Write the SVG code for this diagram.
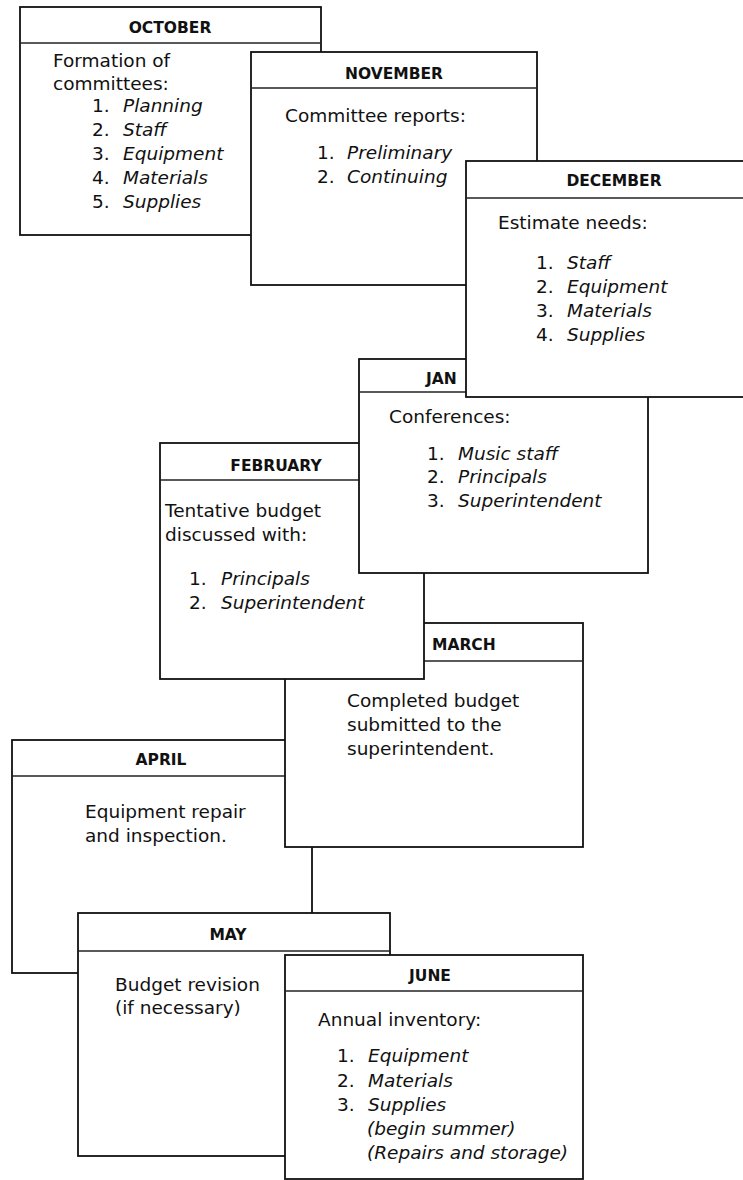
<svg xmlns="http://www.w3.org/2000/svg" width="743" height="1180" viewBox="0 0 743 1180">
<style>
.box{fill:#fff;stroke:#111;stroke-width:1.8}
.hl{stroke:#222;stroke-width:1.3}
.h{font-family:"DejaVu Sans","Liberation Sans",sans-serif;font-weight:bold;font-size:15.5px;fill:#111}
.t{font-family:"DejaVu Sans","Liberation Sans",sans-serif;font-size:18.5px;fill:#111}
.i{font-style:italic}
</style>
<rect width="743" height="1180" fill="#fff"/>
<g id="connectors"/>
<g id="october">
<rect class="box" x="20" y="7" width="301" height="228"/>
<line class="hl" x1="20" y1="43" x2="321" y2="43"/>
<text class="h" x="170" y="33" text-anchor="middle">OCTOBER</text>
<text class="t" x="53" y="67">Formation of</text>
<text class="t" x="53" y="90">committees:</text>
<text class="t" x="92" y="112">1.</text><text class="t i" x="123" y="112">Planning</text>
<text class="t" x="92" y="136">2.</text><text class="t i" x="123" y="136">Staff</text>
<text class="t" x="92" y="160">3.</text><text class="t i" x="123" y="160">Equipment</text>
<text class="t" x="92" y="184">4.</text><text class="t i" x="123" y="184">Materials</text>
<text class="t" x="92" y="208">5.</text><text class="t i" x="123" y="208">Supplies</text>
</g>
<g id="november">
<rect class="box" x="251" y="52" width="286" height="233"/>
<line class="hl" x1="251" y1="88" x2="537" y2="88"/>
<text class="h" x="394" y="79" text-anchor="middle">NOVEMBER</text>
<text class="t" x="285" y="122">Committee reports:</text>
<text class="t" x="317" y="159">1.</text><text class="t i" x="347" y="159">Preliminary</text>
<text class="t" x="317" y="183">2.</text><text class="t i" x="347" y="183">Continuing</text>
</g>
<g id="april">
<rect class="box" x="12" y="740" width="300" height="233"/>
<line class="hl" x1="12" y1="776" x2="312" y2="776"/>
<text class="h" x="161" y="765" text-anchor="middle">APRIL</text>
<text class="t" x="85" y="818">Equipment repair</text>
<text class="t" x="85" y="842">and inspection.</text>
</g>
<g id="march">
<rect class="box" x="285" y="623" width="298" height="224"/>
<line class="hl" x1="285" y1="661" x2="583" y2="661"/>
<text class="h" x="432" y="650">MARCH</text>
<text class="t" x="347" y="707">Completed budget</text>
<text class="t" x="347" y="731">submitted to the</text>
<text class="t" x="347" y="755">superintendent.</text>
</g>
<g id="february">
<rect class="box" x="160" y="443" width="264" height="236"/>
<line class="hl" x1="160" y1="480" x2="424" y2="480"/>
<text class="h" x="276" y="471" text-anchor="middle">FEBRUARY</text>
<text class="t" x="165" y="517">Tentative budget</text>
<text class="t" x="165" y="541">discussed with:</text>
<text class="t" x="189" y="585">1.</text><text class="t i" x="221" y="585">Principals</text>
<text class="t" x="189" y="609">2.</text><text class="t i" x="221" y="609">Superintendent</text>
</g>
<g id="january">
<rect class="box" x="359" y="359" width="289" height="214"/>
<line class="hl" x1="359" y1="392" x2="648" y2="392"/>
<text class="h" x="426" y="384">JAN</text>
<text class="t" x="389" y="423">Conferences:</text>
<text class="t" x="427" y="460">1.</text><text class="t i" x="458" y="460">Music staff</text>
<text class="t" x="427" y="483">2.</text><text class="t i" x="458" y="483">Principals</text>
<text class="t" x="427" y="507">3.</text><text class="t i" x="458" y="507">Superintendent</text>
</g>
<g id="december">
<rect class="box" x="466" y="161" width="300" height="236"/>
<line class="hl" x1="466" y1="198" x2="766" y2="198"/>
<text class="h" x="614" y="186" text-anchor="middle">DECEMBER</text>
<text class="t" x="498" y="229">Estimate needs:</text>
<text class="t" x="536" y="269">1.</text><text class="t i" x="567" y="269">Staff</text>
<text class="t" x="536" y="293">2.</text><text class="t i" x="567" y="293">Equipment</text>
<text class="t" x="536" y="317">3.</text><text class="t i" x="567" y="317">Materials</text>
<text class="t" x="536" y="341">4.</text><text class="t i" x="567" y="341">Supplies</text>
</g>
<g id="may">
<rect class="box" x="78" y="913" width="312" height="243"/>
<line class="hl" x1="78" y1="951" x2="390" y2="951"/>
<text class="h" x="228" y="940" text-anchor="middle">MAY</text>
<text class="t" x="115" y="991">Budget revision</text>
<text class="t" x="115" y="1014">(if necessary)</text>
</g>
<g id="june">
<rect class="box" x="285" y="955" width="298" height="224"/>
<line class="hl" x1="285" y1="991" x2="583" y2="991"/>
<text class="h" x="430" y="981" text-anchor="middle">JUNE</text>
<text class="t" x="318" y="1026">Annual inventory:</text>
<text class="t" x="337" y="1062">1.</text><text class="t i" x="368" y="1062">Equipment</text>
<text class="t" x="337" y="1087">2.</text><text class="t i" x="368" y="1087">Materials</text>
<text class="t" x="337" y="1111">3.</text><text class="t i" x="368" y="1111">Supplies</text>
<text class="t i" x="367" y="1135">(begin summer)</text>
<text class="t i" x="367" y="1159">(Repairs and storage)</text>
</g>
</svg>
